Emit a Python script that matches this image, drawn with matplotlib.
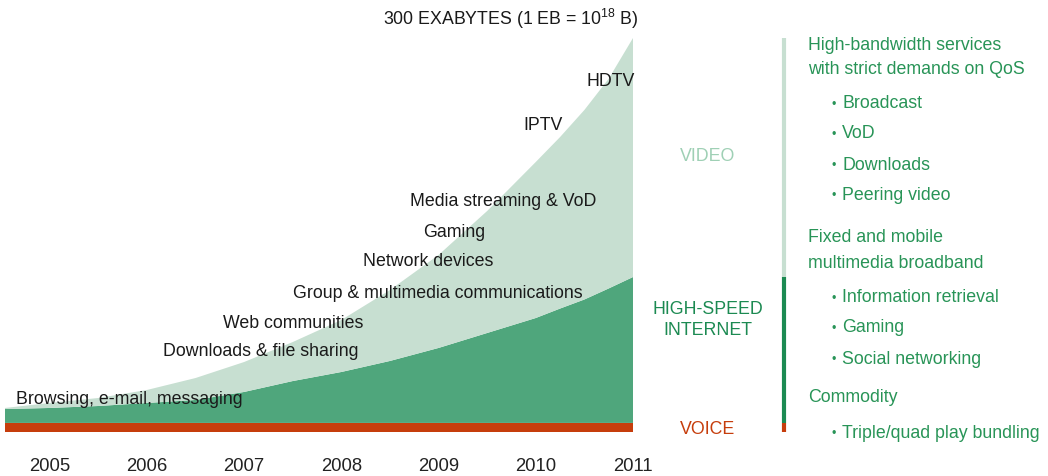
import numpy as np
import matplotlib.pyplot as plt
import matplotlib.transforms as mtransforms

plt.rcParams['font.family'] = ['Liberation Sans', 'DejaVu Sans']
plt.rcParams['mathtext.fontset'] = 'custom'
plt.rcParams['mathtext.rm'] = 'Liberation Sans'

# Traffic (exabytes), cumulative tops of each layer
years = [2004.54, 2005.0, 2005.5, 2006.0, 2006.5, 2007.0, 2007.5,
         2008.0, 2008.5, 2009.0, 2009.5, 2010.0, 2010.25, 2010.5,
         2010.75, 2011.0]
voice = [6.9] * len(years)
internet_top = [17.5, 18.3, 19.8, 22.1, 24.4, 30.5, 38.8,
                45.7, 54.1, 64.0, 75.4, 86.8, 94.0, 100.9,
                109.3, 118.0]
video_top = [18.3, 22.1, 25.9, 32.0, 41.1, 53.3, 68.5,
             85.3, 108.1, 134.8, 168.3, 205.6, 224.6, 245.2,
             269.0, 300.0]

tick_years = [2005, 2006, 2007, 2008, 2009, 2010, 2011]

services = ["Browsing, e-mail, messaging", "Downloads & file sharing",
            "Web communities", "Group & multimedia communications",
            "Network devices", "Gaming", "Media streaming & VoD",
            "IPTV", "HDTV"]

right_blocks = [
    ("High-bandwidth services\nwith strict demands on QoS",
     ["Broadcast", "VoD", "Downloads", "Peering video"]),
    ("Fixed and mobile\nmultimedia broadband",
     ["Information retrieval", "Gaming", "Social networking"]),
    ("Commodity", ["Triple/quad play bundling"]),
]

C_VOICE = "#c63d0c"
C_NET = "#4fa67c"
C_VIDEO = "#c7dfd1"
C_TEXT = "#289457"
FS = 12.8

W, H = 1048, 476
fig = plt.figure(figsize=(W / 100, H / 100), dpi=100)


def fx(x):
    return x / W


def fy(y):
    return 1 - y / H


ax = fig.add_axes([fx(5), fy(432), (633 - 5) / W, (432 - 38) / H])

v = np.array(voice)
net = np.array(internet_top) - v
vid = np.array(video_top) - np.array(internet_top)
ax.stackplot(years, v, net, vid, colors=[C_VOICE, C_NET, C_VIDEO], linewidth=0)

ax.set_xlim(years[0], years[-1])
ax.set_ylim(0, 300)
for s in ax.spines.values():
    s.set_visible(False)
ax.set_yticks([])
ax.set_xticks(tick_years)
ax.set_xticklabels([str(y) for y in tick_years])
ax.tick_params(axis='x', length=0, pad=19, labelsize=FS + 0.5,
               labelcolor="#222222")

# service labels inside the chart (pixel positions of their left edges)
label_pos = [(16, 399), (163, 352), (223, 323), (293, 293), (363, 262),
             (423, 232), (410, 202), (523, 126), (587, 81)]
for name, (x, y) in zip(services, label_pos):
    fig.text(fx(x), fy(y), name, ha='left', va='center', fontsize=FS,
             color="#1a1a1a")

fig.text(fx(511), fy(19), r"300 EXABYTES (1 EB = 10$^{18}$ B)", ha='center',
         va='center', fontsize=FS, color="#1a1a1a")

# category labels
fig.text(fx(708), fy(157), "VIDEO", ha='center', va='center', fontsize=FS,
         color="#9fd0b5")
fig.text(fx(708), fy(320), "HIGH-SPEED\nINTERNET", ha='center', va='center',
         fontsize=FS, color="#1c8a52", linespacing=1.35)
fig.text(fx(708), fy(430), "VOICE", ha='center', va='center', fontsize=FS,
         color=C_VOICE)

# separator bar, heights taken from the 2011 stack
trans = mtransforms.blended_transform_factory(fig.transFigure, ax.transData)
xb = fx(784)
bar_parts = [(0, voice[-1], C_VOICE), (voice[-1], internet_top[-1], "#1c8a52"),
             (internet_top[-1], video_top[-1], C_VIDEO)]
for lo, hi, col in bar_parts:
    ax.plot([xb, xb], [lo, hi], color=col, lw=3, transform=trans,
            clip_on=False, solid_capstyle='butt')

# right-hand descriptions
head_y = [45, 238, 397]
item_y = [[104, 134, 165, 195], [298, 328, 359], [433]]
for (head, items), hy, iys in zip(right_blocks, head_y, item_y):
    lines = head.split("\n")
    for k, line in enumerate(lines):
        fig.text(fx(808), fy(hy + k * 25), line, ha='left', va='center',
                 fontsize=FS, color=C_TEXT)
    for it, iy in zip(items, iys):
        fig.text(fx(831), fy(iy + 1), "•", ha='left', va='center',
                 fontsize=9, color=C_TEXT)
        fig.text(fx(842), fy(iy), it, ha='left', va='center',
                 fontsize=FS, color=C_TEXT)

fig.savefig("out.png", dpi=100)
